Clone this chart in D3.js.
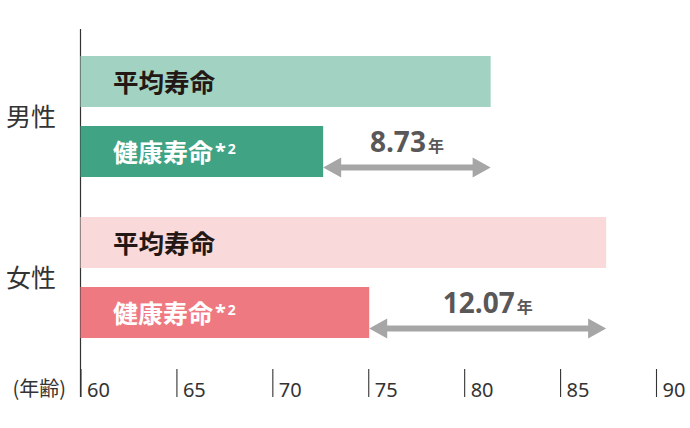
<!DOCTYPE html>
<html>
<head>
<meta charset="utf-8">
<script src="https://cdn.jsdelivr.net/npm/d3@7"></script>
<style>
  html, body { margin: 0; padding: 0; background: #fff; }
  svg { display: block; font-family: "Noto Sans CJK JP", "Noto Sans", sans-serif; }
</style>
</head>
<body>
<svg id="chart"></svg>
<script>
// groups and values (years)
const groups = ["男性", "女性"];
const avgLife = [81.38, 87.4];
const healthyLife = [72.65, 75.05];
const diffLabels = ["8.73", "12.07"];
const tickValues = [60, 65, 70, 75, 80, 85, 90];

const colors = {
  "男性": { avg: "#a1d2c2", healthy: "#40a384" },
  "女性": { avg: "#f9d9d9", healthy: "#ef7981" }
};

document.addEventListener('DOMContentLoaded', function() {
  const width = 690, height = 428;

  const svg = d3.select("#chart")
      .attr("width", width)
      .attr("height", height);

  const rows = groups.map((g, i) => ({
    group: g, avg: avgLife[i], healthy: healthyLife[i], diff: diffLabels[i]
  }));

  // scales
  const x = d3.scaleLinear().domain([60, 90]).range([80.5, 656]);

  const y0 = d3.scaleBand().domain(groups).range([46, 368]);
  const y1 = d3.scaleBand().domain(["avg", "healthy"])
      .range([10, 131])
      .paddingInner(19 / 70);

  // axis at the bottom: ticks point upward, labels to the right
  const axisY = 397;
  const axis = svg.append("g")
      .attr("transform", "translate(0," + axisY + ")")
      .call(d3.axisBottom(x).tickValues(tickValues).tickSize(-28).tickFormat(d3.format("d")));
  axis.select(".domain").remove();
  axis.selectAll(".tick line")
      .attr("stroke", "#333")
      .attr("stroke-width", 1.1);
  axis.selectAll(".tick text")
      .attr("x", 6)
      .attr("y", 0)
      .attr("dy", 0)
      .attr("text-anchor", "start")
      .attr("fill", "#333")
      .style("font-family", "'Noto Sans', sans-serif")
      .style("font-weight", 400)
      .style("font-size", "20px");

  // vertical base line
  svg.append("line")
      .attr("x1", x(60)).attr("x2", x(60))
      .attr("y1", 29).attr("y2", axisY)
      .attr("stroke", "#333")
      .attr("stroke-width", 1.2);

  svg.append("text")
      .attr("x", 66)
      .attr("y", axisY - 1)
      .attr("text-anchor", "end")
      .attr("fill", "#333")
      .style("font-size", "20px")
      .text("(年齢)");

  const grp = svg.selectAll(".grp")
      .data(rows)
      .enter().append("g")
      .attr("class", "grp")
      .attr("transform", d => "translate(0," + y0(d.group) + ")");

  // group label
  grp.append("text")
      .attr("x", 6)
      .attr("y", y1("avg") + (y1("healthy") + y1.bandwidth() - y1("avg")) / 2 + 9)
      .attr("fill", "#333")
      .style("font-size", "25px")
      .text(d => d.group);

  // bars
  grp.append("rect")
      .attr("x", x(60))
      .attr("y", y1("avg"))
      .attr("width", d => x(d.avg) - x(60))
      .attr("height", y1.bandwidth())
      .attr("fill", d => colors[d.group].avg);

  grp.append("rect")
      .attr("x", x(60))
      .attr("y", y1("healthy"))
      .attr("width", d => x(d.healthy) - x(60))
      .attr("height", y1.bandwidth())
      .attr("fill", d => colors[d.group].healthy);

  // bar labels
  grp.append("text")
      .attr("x", x(60) + 32.5)
      .attr("y", y1("avg") + 36)
      .attr("fill", "#231815")
      .style("font-size", "25.5px")
      .style("font-weight", 700)
      .text("平均寿命");

  const hl = grp.append("text")
      .attr("x", x(60) + 32.5)
      .attr("y", y1("healthy") + 36)
      .attr("fill", "#fff")
      .style("font-size", "25px")
      .style("font-weight", 700);
  hl.append("tspan").text("健康寿命");
  hl.append("tspan")
      .attr("dx", 2)
      .attr("dy", -4)
      .style("font-family", "'Noto Sans', sans-serif")
      .style("font-size", "20px")
      .text("*");
  hl.append("tspan")
      .attr("dx", 2)
      .attr("dy", -4)
      .style("font-family", "'Noto Sans', sans-serif")
      .style("font-size", "14px")
      .text("2");

  // double-headed arrows between healthy and average life
  const arrowY = y1("healthy") + 41.5;
  const headL = 18, headH = 10, shaft = 3;
  grp.append("path")
      .attr("fill", "#a6a6a6")
      .attr("d", d => {
        const a = x(d.healthy), b = x(d.avg);
        return "M" + a + "," + arrowY +
          " L" + (a + headL) + "," + (arrowY - headH) +
          " L" + (a + headL) + "," + (arrowY - shaft) +
          " L" + (b - headL) + "," + (arrowY - shaft) +
          " L" + (b - headL) + "," + (arrowY - headH) +
          " L" + b + "," + arrowY +
          " L" + (b - headL) + "," + (arrowY + headH) +
          " L" + (b - headL) + "," + (arrowY + shaft) +
          " L" + (a + headL) + "," + (arrowY + shaft) +
          " L" + (a + headL) + "," + (arrowY + headH) + " Z";
      });

  const dl = grp.append("text")
      .attr("x", d => (x(d.healthy) + x(d.avg)) / 2)
      .attr("y", y1("healthy") + 26)
      .attr("text-anchor", "middle")
      .attr("fill", "#595757")
      .style("font-weight", 700);
  dl.append("tspan")
      .style("font-family", "'Open Sans', 'Noto Sans', sans-serif")
      .style("font-size", "28px")
      .text(d => d.diff);
  dl.append("tspan")
      .attr("dx", 2)
      .style("font-size", "16px")
      .text("年");
});
</script>
</body>
</html>
